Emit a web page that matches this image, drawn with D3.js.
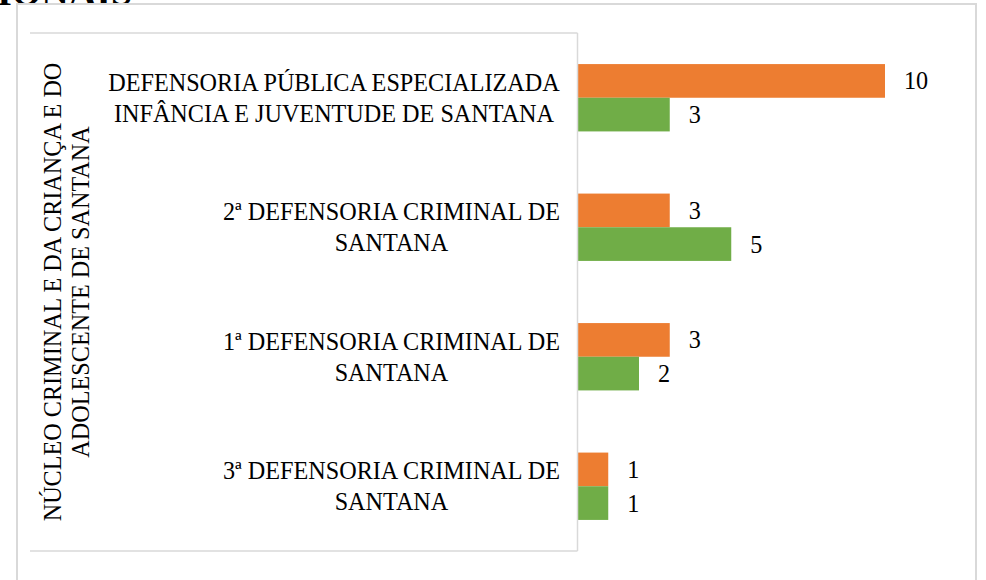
<!DOCTYPE html>
<html><head><meta charset="utf-8">
<script src="https://cdn.jsdelivr.net/npm/d3@7"></script>
<style>
html,body{margin:0;padding:0;background:#fff;}
svg{display:block;}
</style></head>
<body>
<svg id="chart" width="986" height="580"></svg>
<script>
// ---- data ----
const categories = [
  ["DEFENSORIA PÚBLICA ESPECIALIZADA", "INFÂNCIA E JUVENTUDE DE SANTANA"],
  ["2ª DEFENSORIA CRIMINAL DE", "SANTANA"],
  ["1ª DEFENSORIA CRIMINAL DE", "SANTANA"],
  ["3ª DEFENSORIA CRIMINAL DE", "SANTANA"]
];
const seriesNames = ["Série 1", "Série 2"];
const seriesOrange = [10, 3, 3, 1];
const seriesGreen = [3, 5, 2, 1];
const groupLabel = ["NÚCLEO CRIMINAL E DA CRIANÇA E DO", "ADOLESCENTE DE SANTANA"];
const titleFragment = "IONAIS";
const colors = ["#ED7D31", "#70AD47"];

(function () {
const FONT = "'Liberation Serif', 'Times New Roman', Times, serif";
const svg = d3.select("#chart").attr("font-family", FONT);
const fs = 24.2;

// title fragment (cut off at top, as in the reference)
svg.append("text").attr("x", -3).attr("y", 5)
  .attr("font-family", FONT)
  .style("font-size", "38px").style("font-weight", "bold")
  .text(titleFragment);

// outer frame
svg.append("rect").attr("x", 17).attr("y", 4).attr("width", 959).attr("height", 600)
  .attr("fill", "none").attr("stroke", "#d9d9d9").attr("stroke-width", 2);

const plotTop = 33, plotBottom = 551, axisX = 577.5;
const keys = categories.map((c, i) => i);
const y = d3.scaleBand().domain(keys).range([plotTop, plotBottom]).paddingInner(0.48).paddingOuter(0.24);
const ySub = d3.scaleBand().domain([0, 1]).range([0, y.bandwidth()]);
const x = d3.scaleLinear().domain([0, 10]).range([axisX, 885]);

// inner table-like lines
const lines = svg.append("g").attr("stroke", "#d9d9d9").attr("stroke-width", 1.5);
lines.append("line").attr("x1", 30).attr("x2", axisX).attr("y1", plotTop).attr("y2", plotTop);
lines.append("line").attr("x1", 30).attr("x2", axisX).attr("y1", plotBottom).attr("y2", plotBottom);

const data = [];
keys.forEach(i => {
  data.push({cat: i, s: 0, v: seriesOrange[i]});
  data.push({cat: i, s: 1, v: seriesGreen[i]});
});

svg.append("g").selectAll("rect").data(data).join("rect")
  .attr("x", x(0))
  .attr("y", d => y(d.cat) + ySub(d.s))
  .attr("width", d => x(d.v) - x(0))
  .attr("height", ySub.bandwidth())
  .attr("fill", d => colors[d.s]);

// axis line
svg.append("line").attr("x1", axisX).attr("x2", axisX).attr("y1", plotTop).attr("y2", plotBottom)
  .attr("stroke", "#d9d9d9").attr("stroke-width", 1.5);

// value labels
svg.append("g").selectAll("text").data(data).join("text")
  .attr("font-family", FONT)
  .attr("x", d => x(d.v) + 19)
  .attr("y", d => y(d.cat) + ySub(d.s) + ySub.bandwidth() / 2)
  .attr("dy", "0.35em")
  .style("font-size", fs + "px")
  .text(d => d.v);

// category labels (centered block, right edge near axis)
const catG = svg.append("g");
keys.forEach(i => {
  const cy = y(i) + y.bandwidth() / 2;
  const lns = categories[i];
  const t = catG.append("text").attr("font-family", FONT)
    .style("font-size", fs + "px").attr("text-anchor", "middle");
  lns.forEach((l, j) => {
    t.append("tspan").attr("x", 0).attr("y", cy + (j - (lns.length - 1) / 2) * 31).attr("dy", "0.35em").text(l);
  });
  const bb = t.node().getBBox();
  t.attr("transform", `translate(${560 - bb.width / 2},0)`);
});

// rotated group label
const gt = svg.append("text").attr("text-anchor", "middle").attr("font-family", FONT)
  .attr("transform", `translate(0,${(plotTop + plotBottom) / 2}) rotate(-90)`)
  .style("font-size", fs + "px");
groupLabel.forEach((l, j) => {
  gt.append("tspan").attr("x", 0).attr("y", 61 + j * 28).text(l);
});
})();
</script>
</body></html>
